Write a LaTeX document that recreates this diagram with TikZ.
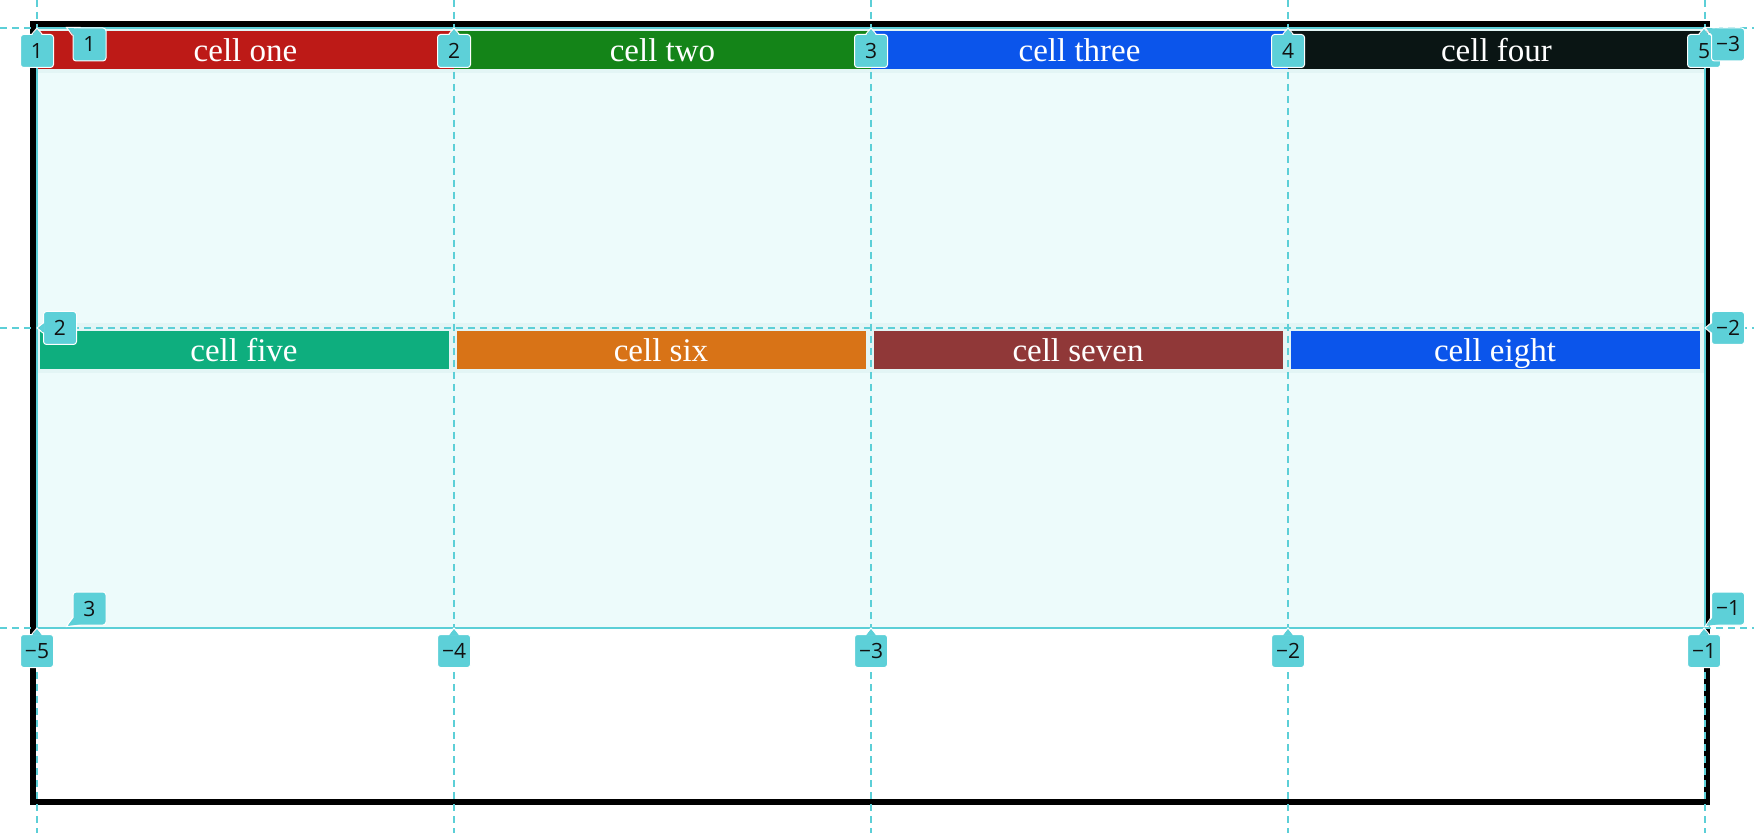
\documentclass[tikz,border=0pt]{standalone}
\usepackage{fontspec}
\setmainfont{Liberation Serif}
\newfontfamily\lblfont{Open Sans}
\usetikzlibrary{calc}
\definecolor{gridbg}{HTML}{EDFBFB}
\definecolor{bandc}{HTML}{E3F5F5}
\definecolor{gline}{HTML}{5CCFD7}
\definecolor{lblfill}{HTML}{5DD0D8}
\definecolor{lbltext}{HTML}{111111}
\definecolor{cone}{HTML}{BD1A17}
\definecolor{ctwo}{HTML}{148418}
\definecolor{cthree}{HTML}{0B55EB}
\definecolor{cfour}{HTML}{0A1514}
\definecolor{cfive}{HTML}{0EAE7E}
\definecolor{csix}{HTML}{D87317}
\definecolor{cseven}{HTML}{903838}
\definecolor{ceight}{HTML}{0B55EB}
\newcommand\ptrN[1]{%
  \fill[lblfill] ($(#1.north)+(-5,1.5)$) -- ($(#1.north)+(0,-6)$) -- ($(#1.north)+(5,1.5)$) -- cycle;
  \draw[white,line width=0.5pt] ($(#1.north)+(-5,0)$) -- ($(#1.north)+(0,-6)$) -- ($(#1.north)+(5,0)$);}
\newcommand\ptrW[1]{%
  \fill[lblfill] ($(#1.west)+(1.5,-5)$) -- ($(#1.west)+(-6,0)$) -- ($(#1.west)+(1.5,5)$) -- cycle;
  \draw[white,line width=0.5pt] ($(#1.west)+(0,-5)$) -- ($(#1.west)+(-6,0)$) -- ($(#1.west)+(0,5)$);}
\newcommand\ptrNW[1]{%
  \fill[lblfill] ($(#1.north west)+(8,1.5)$) -- ($(#1.north west)+(-6,0)$) -- ($(#1.north west)+(1.5,8)$) -- cycle;
  \draw[white,line width=0.5pt] ($(#1.north west)+(8,0)$) -- ($(#1.north west)+(-6,0)$) -- ($(#1.north west)+(0,8)$);}
\newcommand\ptrSW[1]{%
  \fill[lblfill] ($(#1.south west)+(8,-1.5)$) -- ($(#1.south west)+(-6,1)$) -- ($(#1.south west)+(1.5,-8)$) -- cycle;
  \draw[white,line width=0.5pt] ($(#1.south west)+(8,0)$) -- ($(#1.south west)+(-6,1)$) -- ($(#1.south west)+(0,-8)$);}
\begin{document}
\begin{tikzpicture}[x=0.5pt,y=-0.5pt,
  cellA/.style={inner sep=0pt, minimum width=208.5pt, minimum height=19pt, text height=11.2pt, text depth=0pt, text=white, font=\fontsize{16.5}{19}\selectfont},
  cellB/.style={cellA, minimum width=204.5pt},
  gdash/.style={draw=gline, line width=1pt, dash pattern=on 3.5pt off 2.5pt},
  lbl/.style={fill=lblfill, draw=white, line width=0.5pt, rounded corners=1.5pt, minimum width=16.5pt, minimum height=16.5pt, inner sep=1pt, text=lbltext, font=\lblfont\fontsize{10.5}{12}\selectfont}]
\useasboundingbox (0,0) rectangle (1754,833);
% grid area
\fill[gridbg] (37,28) rectangle (1705,628);
\fill[bandc] (37,28) rectangle (1705,73);
\fill[bandc] (37,323) rectangle (1705,373);
% cells row 1
\node[cellA, fill=cone] (cone) at (245.5,50) {cell one};
\node[cellA, fill=ctwo] (ctwo) at (662.5,50) {cell two};
\node[cellA, fill=cthree] (cthree) at (1079.5,50) {cell three};
\node[cellA, fill=cfour] (cfour) at (1496.5,50) {cell four};
% cells row 2
\node[cellB, fill=cfive] (cfive) at (244,350) {cell five};
\node[cellB, fill=csix] (csix) at (661,350) {cell six};
\node[cellB, fill=cseven] (cseven) at (1078,350) {cell seven};
\node[cellB, fill=ceight] (ceight) at (1495,350) {cell eight};
% container border
\draw[black, line width=3pt] (33,24) rectangle (1707,802);
% grid lines
\foreach \x in {37,454,871,1288,1705} \draw[gdash] (\x,0) -- (\x,833);
\foreach \y in {28,328,628} \draw[gdash] (0,\y) -- (1754,\y);
\draw[gline, line width=1pt] (37,28) rectangle (1705,628);
% column line labels (top)
\node[lbl] (t1) at (37,51) {1};   \ptrN{t1}
\node[lbl] (t2) at (454,51) {2};  \ptrN{t2}
\node[lbl] (t3) at (871,51) {3};  \ptrN{t3}
\node[lbl] (t4) at (1288,51) {4}; \ptrN{t4}
\node[lbl] (t5) at (1704,51) {5}; \ptrN{t5}
% column line labels (bottom)
\node[lbl] (b1) at (37,651) {−5};   \ptrN{b1}
\node[lbl] (b2) at (454,651) {−4};  \ptrN{b2}
\node[lbl] (b3) at (871,651) {−3};  \ptrN{b3}
\node[lbl] (b4) at (1288,651) {−2}; \ptrN{b4}
\node[lbl] (b5) at (1704,651) {−1}; \ptrN{b5}
% row line labels (left)
\node[lbl] (l1) at (89.5,44.5) {1};  \ptrNW{l1}
\node[lbl] (l2) at (60,328) {2};     \ptrW{l2}
\node[lbl] (l3) at (89.5,608.5) {3}; \ptrSW{l3}
% row line labels (right)
\node[lbl] (r1) at (1728,44.5) {−3};  \ptrNW{r1}
\node[lbl] (r2) at (1728,328) {−2};   \ptrW{r2}
\node[lbl] (r3) at (1728,608.5) {−1}; \ptrSW{r3}
\end{tikzpicture}
\end{document}
